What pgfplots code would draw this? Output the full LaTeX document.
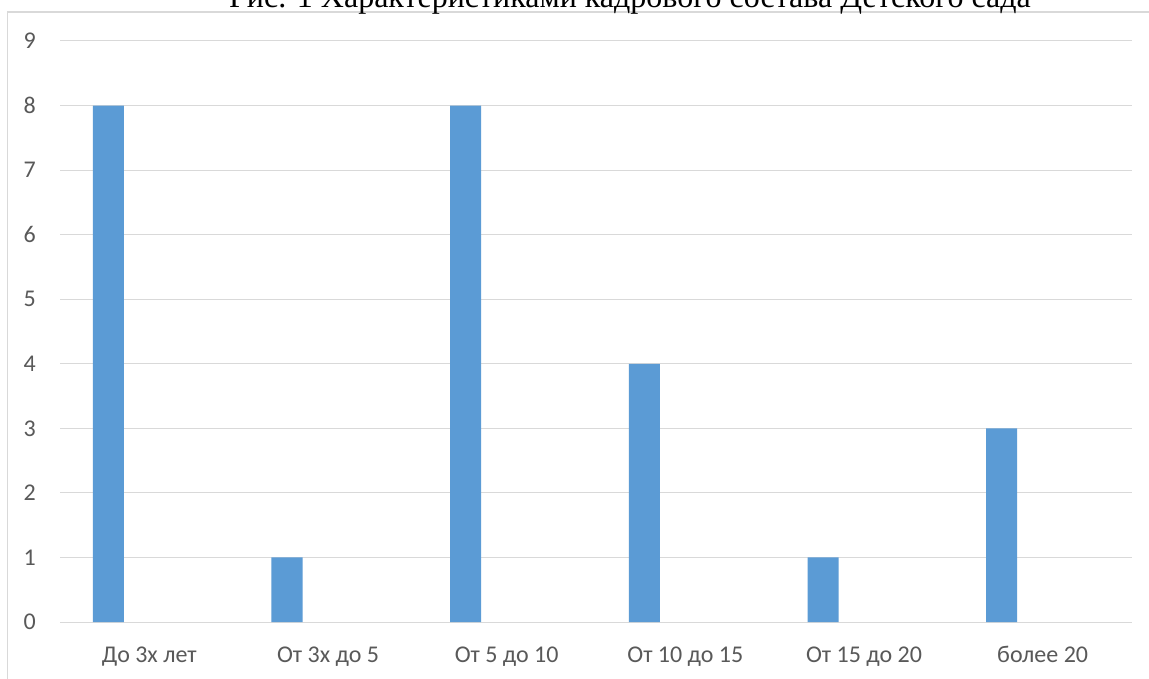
\documentclass[border=0pt]{standalone}
\usepackage{pgfplots}
\pgfplotsset{compat=1.18}
\usepackage{fontspec}
\setmainfont{Carlito}
\newfontfamily\titlefont{Liberation Serif}
\definecolor{barblue}{HTML}{5B9BD5}
\definecolor{gridgray}{HTML}{D9D9D9}
\definecolor{labelgray}{HTML}{595959}
\begin{document}
\begin{tikzpicture}[x=1pt,y=1pt]
\clip (0,0) rectangle (1149,678);
\fill[white] (0,0) rectangle (1149,678);
\draw[gridgray, line width=1.5pt] (7.5,-20) rectangle (1170,666);
\node[anchor=base, inner sep=0pt] at (630,670) {\titlefont\fontsize{32}{36}\selectfont Рис. 1 Характеристиками кадрового состава Детского сада};
\begin{axis}[
  scale only axis,
  width=1072pt, height=581pt,
  at={(60pt,56pt)}, anchor=south west,
  xmin=-0.5, xmax=5.5, ymin=0, ymax=9,
  xtick={0,1,2,3,4,5},
  xticklabels={До 3х лет, От 3х до 5, От 5 до 10, От 10 до 15, От 15 до 20, более 20},
  ytick={0,1,2,3,4,5,6,7,8,9},
  ymajorgrids,
  grid style={gridgray, line width=1pt},
  axis line style={draw=none},
  major tick style={draw=none},
  /pgf/number format/assume math mode=true,
  tick label style={font=\fontsize{24}{28}\selectfont, text=labelgray, inner sep=0pt},
  yticklabel style={anchor=east, xshift=-24pt},
  xticklabel style={anchor=base, yshift=-40pt},
  clip=false,
]
\addplot[ybar, bar width=31pt, bar shift=-41pt, fill=barblue, draw=none]
  coordinates {(0,8) (1,1) (2,8) (3,4) (4,1) (5,3)};
\end{axis}
\end{tikzpicture}
\end{document}
